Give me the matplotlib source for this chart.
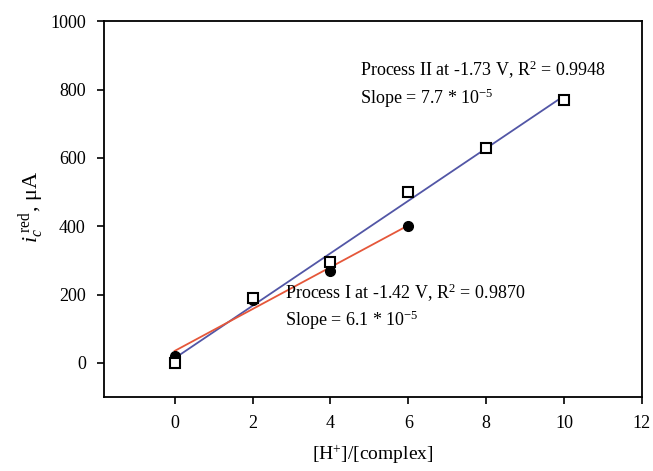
import numpy as np
import matplotlib
matplotlib.use('Agg')
import matplotlib.pyplot as plt

# ── data ──────────────────────────────────────────────────────────────────────

ratio_1   = [0, 2, 4, 6]
current_1 = [20, 185, 270, 400]          # Process I, filled circles

ratio_2   = [0, 2, 4, 6, 8, 10]
current_2 = [0, 190, 295, 500, 630, 770]  # Process II, open squares

x_ticks = [0, 2, 4, 6, 8, 10, 12]
y_ticks = [0, 200, 400, 600, 800, 1000]

label_1 = ['Process I at -1.42 V, R$^2$ = 0.9870', 'Slope = 6.1 * 10$^{-5}$']
label_2 = ['Process II at -1.73 V, R$^2$ = 0.9948', 'Slope = 7.7 * 10$^{-5}$']

# ── style ─────────────────────────────────────────────────────────────────────

plt.rcParams['font.family'] = 'Liberation Serif'
plt.rcParams['mathtext.fontset'] = 'custom'
plt.rcParams['mathtext.rm'] = 'Liberation Serif'
plt.rcParams['mathtext.it'] = 'Liberation Serif:italic'

BLUE = '#5256a6'
RED  = '#e5573a'

fig = plt.figure(figsize=(6.53, 4.71), dpi=100)
ax = fig.add_axes([0.159, 0.157, 0.824, 0.798])

# fitted lines
for xs, ys, col in [(ratio_2, current_2, BLUE), (ratio_1, current_1, RED)]:
    k, b = np.polyfit(xs, ys, 1)
    xx = np.array([xs[0], xs[-1]])
    ax.plot(xx, k * xx + b, color=col, lw=1.3, zorder=2)

ax.plot(ratio_1, current_1, 'o', color='black', ms=7, zorder=3)
ax.plot(ratio_2, current_2, 's', mfc='white', mec='black', mew=1.5, ms=6.5,
        zorder=4)

ax.text(4.76, 857, label_2[0], fontsize=13, va='center')
ax.text(4.76, 775, label_2[1], fontsize=13, va='center')
ax.text(2.83, 205, label_1[0], fontsize=13, va='center')
ax.text(2.83, 126, label_1[1], fontsize=13, va='center')

ax.set_xlim(-1.82, 12)
ax.set_ylim(-100, 1000)
ax.set_xticks(x_ticks)
ax.set_yticks(y_ticks)
ax.tick_params(direction='out', length=5, width=1.2, labelsize=13, pad=8)
for sp in ax.spines.values():
    sp.set_linewidth(1.3)

ax.set_xlabel('[H$^{+}$]/[complex]', fontsize=14)
ax.xaxis.set_label_coords(0.5, -0.122)
ax.set_ylabel('$i_{c}^{\\;\\mathrm{red}}$, μA', fontsize=16)
ax.yaxis.set_label_coords(-0.105, 0.505)

fig.savefig('out.png', dpi=100)
